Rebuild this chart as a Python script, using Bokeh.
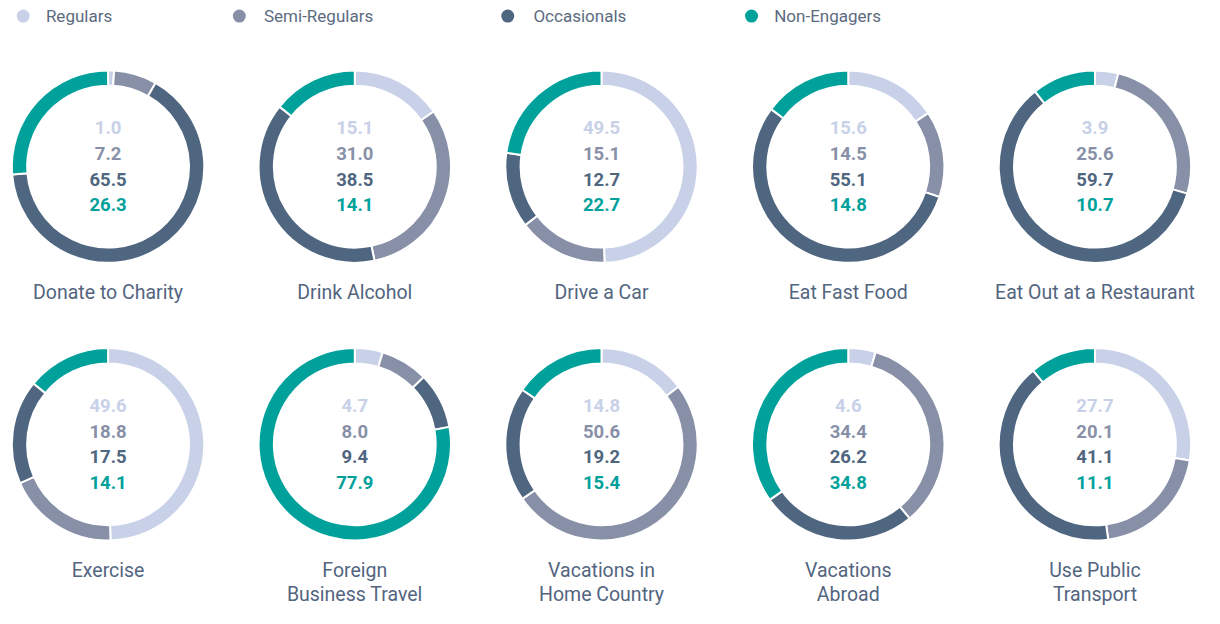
import numpy as np
from bokeh.plotting import figure
from bokeh.models import Range1d, ColumnDataSource
from bokeh.core.properties import value
from bokeh.embed import file_html
from bokeh.resources import INLINE

# ---- data ----
activities = ["Donate to Charity", "Drink Alcohol", "Drive a Car", "Eat Fast Food",
              "Eat Out at a Restaurant", "Exercise", "Foreign\nBusiness Travel",
              "Vacations in\nHome Country", "Vacations\nAbroad", "Use Public\nTransport"]
series = ["Regulars", "Semi-Regulars", "Occasionals", "Non-Engagers"]
regulars = [1.0, 15.1, 49.5, 15.6, 3.9, 49.6, 4.7, 14.8, 4.6, 27.7]
semi_regulars = [7.2, 31.0, 15.1, 14.5, 25.6, 18.8, 8.0, 50.6, 34.4, 20.1]
occasionals = [65.5, 38.5, 12.7, 55.1, 59.7, 17.5, 9.4, 19.2, 26.2, 41.1]
non_engagers = [26.3, 14.1, 22.7, 14.8, 10.7, 14.1, 77.9, 15.4, 34.8, 11.1]

colors = ["#c8d1e8", "#8890a8", "#4f6680", "#00a19b"]
label_color = "#53657f"
FONT = value("Roboto")

W, H = 1204, 608
p = figure(width=W, height=H, output_backend="svg", toolbar_location=None,
           x_range=Range1d(0, 1220), y_range=Range1d(0, 624),
           min_border=0)
p.axis.visible = False
p.grid.visible = False
p.outline_line_color = None
p.background_fill_color = "white"

def Y(sy):
    return 624 - sy

vals = np.array([regulars, semi_regulars, occasionals, non_engagers]).T  # (10, 4)

cx_list = [109 + 250 * (i % 5) for i in range(10)]
cy_list = [170.5 if i < 5 else 455.5 for i in range(10)]
R_OUT, R_IN = 97.5, 82

xs, ys, sa, ea, cols = [], [], [], [], []
tx, ty, tt, tc = [], [], [], []
for i in range(10):
    v = vals[i]
    frac = v / v.sum()
    cum = np.concatenate([[0], np.cumsum(frac)])
    for k in range(4):
        xs.append(cx_list[i]); ys.append(Y(cy_list[i]))
        sa.append(np.pi / 2 - cum[k] * 2 * np.pi)
        ea.append(np.pi / 2 - cum[k + 1] * 2 * np.pi)
        cols.append(colors[k])
        tx.append(cx_list[i]); ty.append(Y(cy_list[i] - 40 + 26.4 * k))
        tt.append(f"{v[k]:.1f}"); tc.append(colors[k])

src = ColumnDataSource(dict(x=xs, y=ys, sa=sa, ea=ea, c=cols))
p.annular_wedge(x="x", y="y", inner_radius=R_IN, outer_radius=R_OUT,
                start_angle="sa", end_angle="ea", direction="clock",
                fill_color="c", line_color="white", line_width=2, source=src)

tsrc = ColumnDataSource(dict(x=tx, y=ty, t=tt, c=tc))
p.text(x="x", y="y", text="t", text_color="c", text_font=FONT,
       text_font_size="18.5px", text_font_style="bold", text_align="center",
       text_baseline="middle", source=tsrc)

# activity labels
lx, ly, lt = [], [], []
for i, name in enumerate(activities):
    lines = name.split("\n")
    base = 300 if i < 5 else 585
    for j, ln in enumerate(lines):
        lx.append(cx_list[i]); ly.append(Y(base + 25 * j)); lt.append(ln)
p.text(x=lx, y=ly, text=lt, text_color=label_color, text_font=FONT,
       text_font_size="19.5px", text_align="center", text_baseline="middle")

# legend
leg_dot_x = [23, 242, 514, 761]
leg_txt_x = [46, 267, 540, 784]
p.scatter(x=leg_dot_x, y=[Y(16)] * 4, size=13, marker="circle",
          fill_color=colors, line_color=None)
p.text(x=leg_txt_x, y=[Y(16)] * 4, text=series,
       text_color="#5c6b80", text_font=FONT, text_font_size="17px",
       text_align="left", text_baseline="middle")

open("out.html", "w").write(file_html(p, INLINE))
